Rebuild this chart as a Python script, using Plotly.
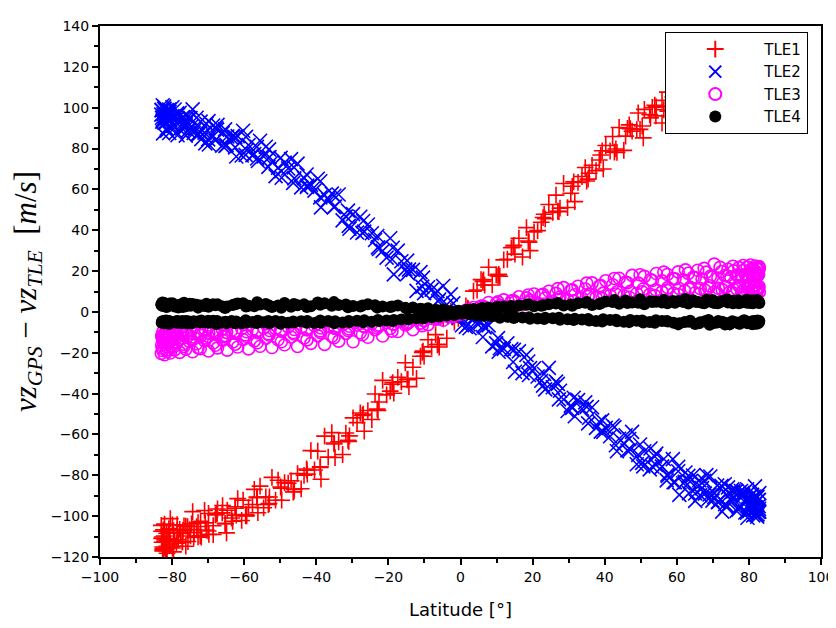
import plotly.graph_objects as go

# ---- latitude samples (six passes) ----
lat_a1 = [-83.0, -82.6, -82.1, -81.4, -80.5, -79.3, -77.9, -76.2, -74.3, -72.2, -69.9, -67.4, -64.7, -61.8, -58.8,
          -55.6, -52.3, -48.8, -45.2, -41.5, -37.7, -33.8, -29.8, -25.7, -21.6, -17.4, -13.2, -9.0, -4.8, -0.6,
          3.6, 7.8, 12.0, 16.2, 20.4, 24.5, 28.6, 32.6, 36.5, 40.3, 44.0, 47.6, 51.0, 54.3, 57.4, 60.4, 63.2,
          65.8, 68.2, 70.4, 72.4, 74.2, 75.8, 77.2, 78.4, 79.5, 80.4, 81.1, 81.7, 82.2, 82.6, 82.9]
lat_d1 = [82.8, 82.4, 81.9, 81.2, 80.2, 79.0, 77.5, 75.7, 73.7, 71.5, 69.1, 66.5, 63.7, 60.7, 57.5, 54.2, 50.7,
          47.1, 43.4, 39.6, 35.7, 31.7, 27.6, 23.5, 19.3, 15.1, 10.9, 6.7, 2.5, -1.7, -5.9, -10.1, -14.3, -18.5,
          -22.6, -26.7, -30.8, -34.8, -38.7, -42.5, -46.1, -49.6, -53.0, -56.2, -59.3, -62.2, -64.9, -67.5,
          -69.8, -71.9, -73.9, -75.6, -77.1, -78.5, -79.6, -80.6, -81.4, -82.0, -82.5, -82.8]
lat_a2 = [-82.9, -82.4, -81.8, -80.9, -79.9, -78.6, -77.0, -75.2, -73.2, -71.0, -68.6, -66.0, -63.2, -60.3,
          -57.2, -54.0, -50.6, -47.0, -43.4, -39.6, -35.7, -31.8, -27.8, -23.7, -19.5, -15.3, -11.1, -6.9, -2.7,
          1.5, 5.7, 9.9, 14.1, 18.3, 22.4, 26.5, 30.6, 34.6, 38.5, 42.2, 45.8, 49.3, 52.7, 55.9, 58.9, 61.8,
          64.5, 67.0, 69.3, 71.4, 73.3, 75.0, 76.5, 77.8, 79.0, 80.0, 80.8, 81.5, 82.0, 82.4, 82.7]
lat_d2 = [82.9, 82.6, 82.1, 81.5, 80.7, 79.6, 78.2, 76.6, 74.7, 72.6, 70.3, 67.8, 65.1, 62.2, 59.1, 55.9, 52.5,
          48.9, 45.3, 41.5, 37.6, 33.7, 29.7, 25.6, 21.4, 17.2, 13.0, 8.8, 4.6, 0.4, -3.8, -8.0, -12.2, -16.4,
          -20.5, -24.6, -28.7, -32.7, -36.7, -40.5, -44.2, -47.8, -51.3, -54.6, -57.7, -60.7, -63.5, -66.1,
          -68.6, -70.8, -72.8, -74.6, -76.2, -77.6, -78.8, -79.9, -80.8, -81.5, -82.1, -82.6]
lat_a3 = [-82.7, -82.2, -81.5, -80.7, -79.6, -78.3, -76.7, -74.9, -72.8, -70.5, -68.0, -65.3, -62.5, -59.5,
          -56.4, -53.1, -49.7, -46.2, -42.6, -38.9, -35.1, -31.2, -27.2, -23.1, -19.0, -14.8, -10.6, -6.4, -2.2,
          2.0, 6.2, 10.4, 14.6, 18.8, 22.9, 27.0, 31.0, 35.0, 38.9, 42.7, 46.3, 49.8, 53.2, 56.4, 59.5, 62.4,
          65.1, 67.6, 69.9, 72.0, 73.9, 75.6, 77.1, 78.4, 79.5, 80.4, 81.2, 81.8, 82.3, 82.8]
lat_d3 = [82.7, 82.2, 81.6, 80.9, 79.9, 78.7, 77.2, 75.4, 73.4, 71.2, 68.8, 66.2, 63.4, 60.4, 57.2, 53.9, 50.4,
          46.8, 43.1, 39.3, 35.4, 31.4, 27.3, 23.2, 19.0, 14.8, 10.6, 6.4, 2.2, -2.0, -6.2, -10.4, -14.6, -18.8,
          -22.9, -27.0, -31.0, -35.0, -38.9, -42.7, -46.4, -49.9, -53.3, -56.5, -59.6, -62.5, -65.2, -67.7,
          -70.0, -72.1, -74.0, -75.7, -77.2, -78.6, -79.8, -80.8, -81.6, -82.2, -82.6, -82.9]

# ---- TLE1 (m/s) ----
tle1_a1 = [-104.5, -116.3, -103.9, -111.6, -101.2, -111.8, -106.5, -104.9, -97.8, -109.6, -98.7, -96.5, -97.1,
           -91.4, -95.7, -85.3, -81.0, -83.6, -79.2, -67.9, -60.8, -63.6, -51.9, -48.3, -33.5, -32.0, -27.1,
           -13.6, -3.4, -3.2, 10.2, 21.9, 25.5, 36.1, 39.2, 52.6, 62.9, 63.4, 71.8, 81.5, 90.3, 88.5, 99.2,
           100.4, 107.6, 110.1, 113.9, 116.2, 118.0, 119.7, 121.3, 120.6, 122.8, 123.1, 121.9, 124.2, 123.0,
           125.1, 122.6, 124.4, 123.5, 125.0]
tle1_d1 = [114.4, 121.1, 111.2, 118.6, 120.0, 111.7, 117.9, 112.2, 107.5, 114.8, 110.3, 106.2, 109.1, 98.4,
           98.3, 96.0, 85.2, 89.7, 78.1, 70.0, 67.9, 54.0, 50.8, 45.6, 30.0, 28.3, 17.5, 13.1, 0.8, -5.0,
           -17.2, -21.7, -36.6, -39.8, -44.1, -58.4, -60.7, -71.3, -81.9, -79.4, -86.8, -92.2, -90.6, -98.3,
           -99.8, -99.5, -108.2, -98.6, -108.9, -110.3, -108.0, -112.4, -112.6, -108.1, -117.5, -111.0,
           -118.2, -111.5, -116.0, -112.8]
tle1_a2 = [-107.4, -106.7, -116.9, -106.1, -104.3, -104.2, -107.0, -106.6, -105.1, -97.2, -104.7, -94.8, -102.5,
           -92.2, -86.9, -90.6, -82.4, -82.7, -80.0, -68.2, -59.1, -59.3, -49.5, -40.2, -38.8, -24.9, -21.7,
           -11.1, 0.4, 2.9, 15.8, 18.1, 31.4, 41.3, 43.9, 57.2, 58.1, 70.7, 74.4, 85.9, 86.1, 97.4, 95.0,
           103.6, 105.2, 109.5, 111.7, 114.8, 116.3, 118.9, 118.2, 120.7, 121.1, 119.8, 122.6, 121.4, 123.3,
           122.0, 124.0, 121.7, 123.8]
tle1_d2 = [115.6, 119.2, 123.4, 115.8, 114.3, 118.5, 115.1, 119.6, 112.0, 113.3, 110.9, 113.6, 107.4, 101.7,
           103.8, 92.5, 96.6, 89.3, 79.1, 78.8, 69.2, 66.3, 51.1, 48.7, 39.8, 26.9, 25.8, 13.2, 10.7, -2.4,
           -12.9, -17.1, -32.5, -34.2, -40.6, -52.7, -54.2, -69.8, -71.1, -77.4, -86.6, -83.9, -92.2, -95.9,
           -94.3, -102.1, -100.9, -98.4, -109.0, -103.3, -110.1, -103.8, -114.7, -108.2, -113.3, -115.6,
           -112.4, -114.8, -112.3, -115.1]
tle1_a3 = [-110.2, -115.6, -108.4, -113.9, -107.1, -111.5, -104.8, -109.7, -103.2, -106.8, -99.4, -103.5, -96.1,
           -99.2, -91.0, -93.8, -86.3, -87.9, -77.5, -75.8, -64.2, -62.9, -50.7, -47.6, -35.4, -33.2, -19.8,
           -16.1, -2.5, 1.8, 14.9, 17.6, 31.8, 34.7, 46.2, 49.3, 61.5, 64.1, 76.8, 78.2, 89.9, 89.4, 100.1,
           99.0, 107.3, 106.6, 113.0, 110.9, 117.2, 114.4, 119.5, 116.3, 121.0, 117.8, 122.3, 118.6, 123.2,
           119.1, 122.7, 120.4]
tle1_d3 = [119.6, 124.1, 117.3, 121.8, 116.2, 120.9, 115.7, 119.8, 113.9, 117.5, 111.0, 114.6, 106.8, 109.9,
           100.7, 101.2, 91.0, 91.6, 79.8, 78.9, 65.0, 63.7, 49.1, 47.8, 34.2, 32.6, 18.4, 15.7, 1.3, -1.9,
           -15.8, -19.2, -32.9, -34.6, -48.3, -50.1, -63.4, -64.7, -76.1, -76.9, -88.2, -85.7, -94.3, -90.6,
           -99.9, -95.4, -103.8, -99.0, -107.3, -102.5, -110.4, -105.1, -112.6, -106.9, -114.8, -108.3,
           -116.1, -109.7, -117.0, -110.9]

# ---- TLE2 (m/s) ----
tle2_a1 = [96.6, 101.2, 99.4, 98.8, 93.9, 99.1, 97.5, 91.8, 99.2, 87.9, 93.4, 91.6, 85.9, 86.1, 81.7, 83.8,
           73.4, 73.1, 72.6, 62.3, 57.2, 57.5, 47.9, 42.8, 29.9, 30.0, 20.6, 12.1, 12.7, -2.8, -2.9, -6.6,
           -18.1, -19.3, -27.6, -27.4, -42.9, -43.2, -46.7, -56.8, -62.1, -58.7, -68.2, -69.4, -79.6, -75.8,
           -80.3, -85.5, -79.9, -90.7, -85.2, -85.9, -90.5, -88.6, -90.1, -86.8, -93.7, -91.3, -85.4, -93.0,
           -92.2, -88.7]
tle2_d1 = [-96.4, -99.1, -95.7, -96.5, -94.3, -98.2, -95.0, -87.8, -95.5, -93.2, -89.4, -89.7, -83.1, -89.6,
           -80.3, -74.9, -75.6, -67.4, -68.2, -58.7, -51.8, -51.1, -38.6, -37.9, -27.5, -29.3, -17.8, -7.6,
           -8.0, -2.7, 6.1, 9.2, 20.7, 18.4, 30.8, 39.3, 40.7, 51.6, 51.2, 61.9, 65.4, 65.7, 75.8, 73.9, 79.3,
           76.1, 81.7, 89.2, 82.0, 84.6, 88.9, 88.8, 92.2, 86.5, 91.1, 95.7, 88.8, 95.6, 87.4, 95.1]
tle2_a2 = [98.9, 96.8, 98.6, 97.1, 100.2, 94.8, 95.4, 94.9, 95.1, 87.8, 91.3, 87.5, 86.2, 88.7, 77.3, 80.9,
           70.6, 74.8, 65.5, 65.2, 57.9, 46.8, 46.6, 35.2, 36.1, 20.8, 19.5, 9.4, 8.6, -7.3, -4.8, -15.4,
           -18.2, -21.0, -33.7, -34.1, -45.9, -44.3, -53.8, -55.6, -60.4, -70.0, -66.9, -75.8, -72.1, -83.9,
           -80.1, -86.3, -80.6, -93.0, -84.4, -92.1, -87.6, -87.7, -93.3, -91.0, -94.9, -90.4, -91.2, -90.5,
           -95.1]
tle2_d2 = [-97.8, -97.9, -99.3, -96.6, -93.9, -100.8, -88.7, -97.4, -89.1, -97.8, -88.6, -89.0, -92.5, -83.2,
           -83.4, -75.7, -77.1, -74.6, -64.3, -60.9, -56.8, -47.4, -48.5, -36.9, -31.6, -30.0, -15.4, -16.9,
           -5.7, -6.5, 3.6, 10.9, 10.3, 24.8, 26.6, 38.5, 38.9, 44.8, 55.1, 59.4, 61.0, 70.2, 66.5, 76.1, 76.8,
           76.6, 85.2, 81.4, 86.1, 82.5, 86.7, 90.9, 86.3, 93.4, 88.0, 95.9, 87.6, 89.8, 92.7, 94.2]
tle2_a3 = [93.1, 99.5, 95.2, 98.0, 91.4, 96.6, 90.2, 94.9, 87.3, 92.1, 84.0, 89.4, 80.6, 85.7, 75.1, 79.6,
           68.9, 70.8, 61.2, 64.0, 51.3, 49.6, 38.7, 37.2, 25.8, 25.1, 12.4, 10.2, -0.6, -1.9, -12.3, -12.8,
           -24.5, -24.3, -36.1, -35.2, -47.0, -46.5, -58.6, -56.4, -67.8, -64.9, -75.7, -72.0, -83.4, -78.6,
           -88.9, -82.7, -92.4, -86.1, -95.0, -87.9, -96.8, -89.5, -98.3, -90.2, -99.6, -91.4, -100.2, -92.0]
tle2_d3 = [-97.3, -90.8, -99.0, -89.5, -96.4, -88.2, -95.7, -86.9, -94.1, -85.0, -91.6, -82.4, -88.7, -78.0,
           -82.5, -70.8, -73.9, -62.2, -65.3, -53.1, -54.6, -42.0, -42.8, -30.4, -30.9, -18.6, -19.5, -6.8,
           -6.1, 4.2, 5.3, 16.8, 18.9, 31.4, 31.6, 44.5, 42.1, 56.9, 56.1, 67.3, 63.2, 75.4, 71.0, 80.8, 76.9,
           85.6, 81.3, 89.9, 84.5, 93.2, 87.6, 95.4, 89.8, 97.2, 91.3, 99.1, 92.9, 100.6, 93.5, 98.7]

# ---- TLE3 (m/s) ----
tle3_a1 = [-20.3, -18.9, -21.0, -19.4, -20.1, -18.6, -19.8, -18.2, -19.5, -18.0, -19.1, -17.6, -18.7, -17.2,
           -18.1, -16.8, -17.4, -16.1, -16.9, -15.4, -15.9, -14.3, -14.6, -12.4, -11.8, -9.6, -8.7, -6.2, -4.1,
           -1.3, 2.2, 4.6, 5.9, 7.4, 8.8, 10.1, 11.9, 12.6, 14.2, 15.3, 16.5, 17.9, 17.4, 18.8, 18.3, 19.6,
           18.9, 20.4, 19.5, 23.4, 19.8, 20.9, 20.1, 21.7, 20.3, 22.0, 20.6, 21.4, 20.0, 21.9, 20.7, 21.3]
tle3_d1 = [12.4, 11.1, 13.2, 11.7, 12.9, 11.3, 12.6, 11.0, 12.3, 11.6, 12.8, 11.4, 12.1, 11.5, 11.9, 10.8, 11.2,
           10.1, 9.9, 9.2, 8.6, 8.4, 7.3, 6.8, 5.7, 4.9, 3.2, 2.4, 0.6, -1.6, -3.0, -4.3, -4.9, -6.1, -6.4,
           -7.2, -7.0, -8.1, -7.9, -8.8, -8.6, -9.5, -9.1, -10.2, -9.7, -10.6, -10.0, -11.1, -10.4, -11.5,
           -10.7, -11.8, -11.0, -12.1, -11.3, -12.4, -11.6, -12.7, -11.9, -12.2]
tle3_a2 = [-16.2, -14.8, -16.9, -15.3, -16.5, -14.9, -15.8, -14.4, -15.6, -14.1, -15.2, -13.8, -14.7, -13.5,
           -14.2, -12.9, -13.6, -12.3, -12.8, -11.6, -11.9, -10.5, -10.2, -8.7, -8.1, -6.4, -5.5, -3.6, -1.9,
           0.8, 2.9, 4.1, 5.3, 6.9, 8.2, 9.1, 10.6, 11.2, 12.7, 13.3, 14.6, 14.1, 15.8, 15.2, 16.4, 15.7, 17.0,
           16.1, 17.4, 16.6, 17.8, 16.9, 18.1, 17.2, 18.4, 17.5, 18.6, 17.7, 18.9, 17.9, 18.2]
tle3_d2 = [9.8, 11.4, 10.2, 12.0, 10.5, 11.8, 10.1, 11.3, 9.7, 10.9, 9.6, 10.7, 9.4, 10.3, 9.1, 9.8, 8.6, 9.0,
           7.9, 8.1, 7.0, 6.8, 5.9, 5.2, 4.3, 3.6, 2.5, 1.4, 0.3, -0.9, -2.1, -3.2, -3.8, -4.6, -5.3, -5.7,
           -6.4, -6.2, -7.1, -6.8, -7.7, -7.3, -8.2, -7.8, -8.6, -8.1, -9.0, -8.4, -9.3, -8.7, -9.6, -8.9,
           -9.8, -9.2, -10.1, -9.4, -10.3, -9.6, -10.6, -9.9]
tle3_a3 = [-17.8, -13.9, -18.6, -14.4, -17.2, -13.6, -16.9, -13.1, -17.5, -12.8, -16.3, -12.2, -15.8, -11.9,
           -15.1, -11.3, -14.6, -10.8, -13.7, -10.0, -12.6, -9.1, -11.2, -7.9, -9.4, -5.8, -6.7, -3.5, -2.4,
           1.2, 2.6, 4.9, 5.6, 8.3, 8.6, 11.4, 10.8, 14.1, 12.9, 16.4, 14.3, 18.2, 15.4, 19.5, 16.2, 20.6,
           16.8, 21.3, 17.1, 21.8, 17.6, 22.4, 17.9, 22.7, 18.3, 23.0, 18.0, 22.5, 18.6, 22.2]
tle3_d3 = [11.8, 9.3, 13.1, 9.9, 12.4, 9.0, 12.9, 9.5, 12.2, 9.2, 11.7, 8.8, 11.3, 8.5, 10.6, 8.0, 9.9, 7.2,
           8.8, 6.5, 7.6, 5.4, 6.1, 3.9, 4.8, 2.6, 2.9, 0.9, 0.2, -1.8, -2.6, -4.1, -5.4, -5.9, -7.0, -6.9,
           -8.3, -7.6, -9.2, -8.4, -10.1, -8.9, -10.7, -9.3, -11.2, -9.8, -11.6, -10.1, -12.0, -10.4, -12.3,
           -10.6, -12.8, -10.9, -13.0, -11.2, -13.3, -11.5, -13.1, -11.7]

# ---- TLE4 (m/s) ----
tle4_a1 = [3.8, 2.9, 4.3, 3.1, 4.0, 2.6, 3.5, 2.8, 3.9, 3.2, 2.5, 3.7, 2.7, 4.1, 3.0, 3.6, 2.4, 4.4, 3.3, 2.8,
           4.2, 3.4, 2.9, 3.8, 2.6, 3.1, 2.2, 1.8, 1.2, 0.6, 1.4, 2.1, 2.6, 3.2, 2.8, 3.7, 3.1, 4.2, 3.4, 5.1,
           4.0, 4.6, 3.8, 5.0, 4.3, 5.3, 4.1, 4.9, 6.0, 4.4, 5.2, 4.6, 5.5, 4.2, 5.0, 4.5, 5.4, 4.3, 5.1, 4.7,
           5.3, 4.4]
tle4_d1 = [-5.1, -4.2, -5.6, -4.6, -5.3, -4.4, -5.8, -4.9, -5.4, -4.5, -6.3, -5.0, -4.3, -5.5, -4.7, -4.1,
           -5.2, -3.9, -4.6, -3.6, -4.2, -3.3, -3.8, -2.9, -3.4, -2.5, -2.8, -1.9, -1.2, -1.5, -2.3, -2.9,
           -3.4, -3.9, -4.5, -4.1, -5.0, -4.6, -5.3, -4.4, -5.1, -4.8, -5.5, -4.3, -5.2, -4.7, -5.6, -4.5,
           -5.3, -4.2, -5.0, -4.6, -5.4, -4.4, -5.1, -4.8, -5.5, -4.3, -5.2, -4.7]
tle4_a2 = [3.3, 4.5, 2.7, 3.6, 4.2, 3.0, 2.4, 4.0, 3.5, 2.9, 3.8, 2.6, 3.4, 4.3, 2.8, 3.9, 3.2, 2.5, 3.7, 4.6,
           3.0, 3.6, 2.7, 3.3, 2.4, 2.0, 1.6, 1.0, 0.4, 0.9, 1.7, 2.3, 2.9, 3.5, 3.0, 4.1, 3.6, 4.5, 3.9, 4.8,
           5.6, 4.5, 5.2, 4.6, 5.4, 4.8, 5.7, 4.5, 5.1, 4.3, 5.6, 4.8, 5.2, 4.6, 5.5, 4.9, 5.6, 4.7, 5.0, 5.4,
           4.6]
tle4_d2 = [-4.5, -5.4, -4.9, -5.7, -4.7, -5.5, -4.6, -5.2, -6.1, -4.8, -5.4, -4.6, -5.9, -4.9, -5.3, -4.4,
           -4.9, -4.3, -4.8, -4.0, -4.4, -3.7, -3.6, -3.1, -3.2, -2.7, -2.4, -2.1, -1.6, -0.9, -1.8, -2.6,
           -3.1, -3.7, -4.2, -4.8, -4.3, -5.2, -4.5, -5.4, -4.6, -5.3, -4.4, -5.0, -4.9, -5.6, -4.5, -5.2,
           -4.3, -5.1, -4.7, -5.5, -4.4, -5.3, -4.6, -5.0, -4.5, -5.4, -4.8, -5.1]
tle4_a3 = [4.6, 3.2, 2.4, 4.1, 3.4, 2.2, 4.5, 3.0, 2.1, 4.0, 3.3, 1.9, 3.8, 2.6, 4.7, 3.1, 2.0, 3.9, 2.4, 3.5,
           4.8, 2.3, 3.2, 2.1, 2.7, 1.5, 1.3, 0.8, 0.1, 1.1, 1.9, 2.5, 2.2, 3.8, 3.3, 4.4, 3.0, 4.9, 4.2, 5.8,
           4.4, 6.2, 4.9, 5.9, 4.5, 6.3, 5.0, 4.2, 5.8, 4.9, 6.1, 4.3, 5.7, 4.8, 6.0, 4.4, 5.6, 4.9, 5.8, 4.8]
tle4_d3 = [-4.9, -5.8, -4.4, -6.0, -5.0, -4.1, -5.7, -4.6, -6.2, -5.2, -4.0, -5.6, -4.8, -6.1, -4.5, -5.3,
           -4.2, -5.0, -3.8, -4.7, -3.5, -4.0, -2.9, -3.5, -2.6, -3.0, -2.2, -1.8, -1.0, -1.3, -2.1, -3.2,
           -3.6, -4.4, -3.9, -5.1, -4.4, -5.6, -4.2, -5.3, -4.7, -5.8, -4.5, -5.4, -4.1, -5.5, -4.8, -5.9,
           -4.3, -5.2, -4.6, -5.7, -4.4, -5.3, -4.9, -5.8, -4.2, -5.5, -4.6, -5.3]

passes = [(lat_a1, "a1"), (lat_d1, "d1"), (lat_a2, "a2"), (lat_d2, "d2"), (lat_a3, "a3"), (lat_d3, "d3")]
series_vals = {
    "TLE1": [tle1_a1, tle1_d1, tle1_a2, tle1_d2, tle1_a3, tle1_d3],
    "TLE2": [tle2_a1, tle2_d1, tle2_a2, tle2_d2, tle2_a3, tle2_d3],
    "TLE3": [tle3_a1, tle3_d1, tle3_a2, tle3_d2, tle3_a3, tle3_d3],
    "TLE4": [tle4_a1, tle4_d1, tle4_a2, tle4_d2, tle4_a3, tle4_d3],
}
latitude = []
for lats, _ in passes:
    latitude += lats
for name, parts in series_vals.items():
    for (lats, tag), vals in zip(passes, parts):
        assert len(lats) == len(vals), f"{name} {tag}: {len(lats)} vs {len(vals)}"

styles = {
    "TLE1": dict(symbol="cross-thin", size=12, color="#ff0000", line=dict(color="#ff0000", width=1.6)),
    "TLE2": dict(symbol="x-thin", size=14, color="#0000ff", line=dict(color="#0000ff", width=1.6)),
    "TLE3": dict(symbol="circle-open", size=12, color="#ff00ff", line=dict(color="#ff00ff", width=1.6)),
    "TLE4": dict(symbol="circle", size=12, color="#000000", line=dict(width=0)),
}

fig = go.Figure()
for name, parts in series_vals.items():
    vals = []
    for p in parts:
        vals += p
    fig.add_trace(go.Scatter(x=latitude, y=vals, mode="markers", name=name, marker=styles[name]))

axis_common = dict(
    showline=True, linecolor="black", linewidth=2, mirror=True,
    ticks="outside", ticklen=6, tickwidth=1.5, tickcolor="black",
    showgrid=False, zeroline=False,
    tickfont=dict(family="DejaVu Sans", size=14, color="black"),
)

# the page body adds an 8px offset, so margins are shifted to keep the plot area at 100..822 x 18..557
fig.update_layout(
    width=836, height=628,
    margin=dict(l=92, r=22, t=10, b=79),
    paper_bgcolor="white", plot_bgcolor="white",
    font=dict(family="DejaVu Sans", color="black"),
    xaxis=dict(range=[-100, 100], dtick=20, tick0=0,
               minor=dict(dtick=10, ticks="outside", ticklen=4, tickwidth=1.5, tickcolor="black"),
               title=dict(text="Latitude [°]", font=dict(family="DejaVu Sans", size=18), standoff=20),
               **axis_common),
    yaxis=dict(range=[-120, 140], dtick=20, tick0=0,
               minor=dict(dtick=10, ticks="outside", ticklen=4, tickwidth=1.5, tickcolor="black"),
               title=dict(text="<i>vz</i><sub><i>GPS</i></sub> − <i>vz</i><sub><i>TLE</i></sub>  [<i>m</i>/<i>s</i>]",
                          font=dict(family="Liberation Serif", size=31), standoff=10),
               **axis_common),
    legend=dict(x=0.784, y=0.989, xanchor="left", yanchor="top",
                bgcolor="white", bordercolor="black", borderwidth=1,
                itemwidth=88,
                font=dict(family="DejaVu Sans", size=15), itemsizing="constant"),
)

fig.write_html("out.html")
